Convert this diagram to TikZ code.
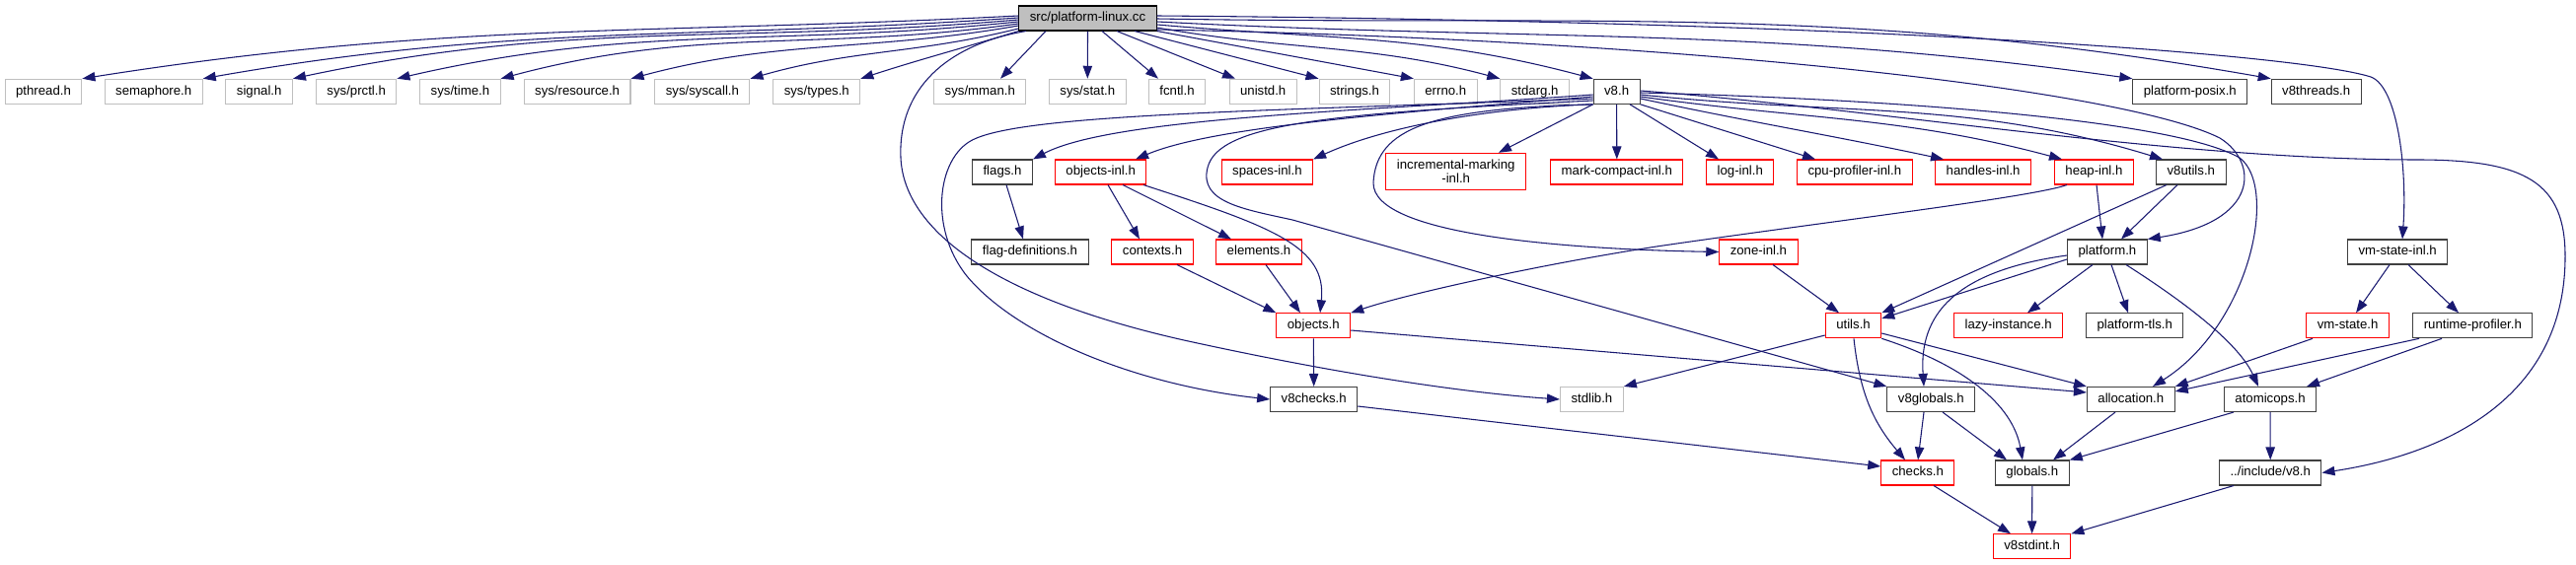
\documentclass[tikz,border=0pt]{standalone}
\usepackage{fontspec}
\setmainfont{Liberation Sans}
\usetikzlibrary{arrows.meta,calc}
\definecolor{mblue}{HTML}{191970}
\definecolor{gseventyfive}{HTML}{BFBFBF}
\definecolor{gforty}{HTML}{404040}
\tikzset{
  base/.style={rectangle, line width=0.8pt, fill=white, minimum height=18.75pt,
    inner xsep=8.25pt, inner ysep=1pt, font=\fontsize{9.9}{10.5}\selectfont},
  one/.style={base, text height=7.1pt, text depth=2.1pt},
  sysh/.style={one, draw=gseventyfive},
  doc/.style={one, draw=gforty},
  trunc/.style={one, draw=red},
  topnode/.style={one, draw=black, fill=gseventyfive},
  edge/.style={draw=mblue, line width=0.8pt, -{Triangle[length=9.75pt,width=7pt]}}
}
\begin{document}
\begin{tikzpicture}[x=0.75pt,y=0.75pt]
\useasboundingbox (0,0) rectangle (2611,-573);
% row 0
\node[topnode] (src) at (1102.5,-18.5) {src/platform-linux.cc};
% row 1
\node[sysh] (pthread) at (44,-92.8) {pthread.h};
\node[sysh] (semaphore) at (155.7,-92.8) {semaphore.h};
\node[sysh] (signal) at (262.7,-92.8) {signal.h};
\node[sysh] (prctl) at (361.2,-92.8) {sys/prctl.h};
\node[sysh] (systime) at (466.4,-92.8) {sys/time.h};
\node[sysh] (resource) at (585.1,-92.8) {sys/resource.h};
\node[sysh] (syscall) at (711.9,-92.8) {sys/syscall.h};
\node[sysh] (systypes) at (827.8,-92.8) {sys/types.h};
\node[sysh] (mman) at (993.3,-92.8) {sys/mman.h};
\node[sysh] (stat) at (1102.3,-92.8) {sys/stat.h};
\node[sysh] (fcntl) at (1193,-92.8) {fcntl.h};
\node[sysh] (unistd) at (1280.2,-92.8) {unistd.h};
\node[sysh] (strings) at (1373,-92.8) {strings.h};
\node[sysh] (errno) at (1465.3,-92.8) {errno.h};
\node[sysh] (stdarg) at (1555.7,-92.8) {stdarg.h};
\node[doc] (veight) at (1638.6,-92.8) {v8.h};
\node[doc] (posix) at (2219.8,-92.8) {platform-posix.h};
\node[doc] (threads) at (2347.7,-92.8) {v8threads.h};
% row 2
\node[doc] (flags) at (1016,-174.5) {flags.h};
\node[trunc] (objinl) at (1115.7,-174.5) {objects-inl.h};
\node[trunc] (spaces) at (1284.4,-174.5) {spaces-inl.h};
\node[base, draw=red, align=center, minimum height=28pt] (incr) at (1475.7,-174) {incremental-marking\\-inl.h};
\node[trunc] (markc) at (1638.8,-174.5) {mark-compact-inl.h};
\node[trunc] (login) at (1763.8,-174.5) {log-inl.h};
\node[trunc] (cpuprof) at (1879.8,-174.5) {cpu-profiler-inl.h};
\node[trunc] (handles) at (2010.1,-174.5) {handles-inl.h};
\node[trunc] (heapinl) at (2122.4,-174.5) {heap-inl.h};
\node[doc] (vutils) at (2220.8,-174.5) {v8utils.h};
% row 3
\node[doc] (flagdef) at (1044,-255.5) {flag-definitions.h};
\node[trunc] (contexts) at (1168,-255.5) {contexts.h};
\node[trunc] (elements) at (1276,-255.5) {elements.h};
\node[trunc] (zoneinl) at (1782.4,-255.5) {zone-inl.h};
\node[doc] (platform) at (2135.9,-255.5) {platform.h};
\node[doc] (vmsinl) at (2430.2,-255.5) {vm-state-inl.h};
% row 4
\node[trunc] (objects) at (1331.3,-330.3) {objects.h};
\node[trunc] (utils) at (1878.5,-330.3) {utils.h};
\node[trunc] (lazy) at (2035.6,-330.3) {lazy-instance.h};
\node[doc] (ptls) at (2163.7,-330.3) {platform-tls.h};
\node[trunc] (vmstate) at (2379.6,-330.3) {vm-state.h};
\node[doc] (rtprof) at (2506.3,-330.3) {runtime-profiler.h};
% row 5
\node[doc] (vchecks) at (1331.7,-405) {v8checks.h};
\node[sysh] (stdlib) at (1613.4,-405) {stdlib.h};
\node[doc] (vglobals) at (1957.3,-405) {v8globals.h};
\node[doc] (alloc) at (2159.8,-405) {allocation.h};
\node[doc] (atomic) at (2301,-405) {atomicops.h};
% row 6
\node[trunc] (checks) at (1943.8,-479.5) {checks.h};
\node[doc] (globals) at (2059.8,-479.5) {globals.h};
\node[doc] (inclv8) at (2301.2,-479.5) {../include/v8.h};
% row 7
\node[trunc] (stdint) at (2059.6,-554.3) {v8stdint.h};

% ---- edges from src
\draw[edge] (src.west |- 0,-16) to[out=183,in=9] (pthread.north east);
\draw[edge] (src.west |- 0,-18) to[out=184,in=10] (semaphore.north east);
\draw[edge] (src.west |- 0,-20) to[out=185,in=12] (signal.north east);
\draw[edge] (src.west |- 0,-22) to[out=186,in=13] (prctl.north east);
\draw[edge] (src.west |- 0,-24) to[out=188,in=15] (systime.north east);
\draw[edge] (src.west |- 0,-26) to[out=190,in=15] (resource.north east);
\draw[edge] (src.west |- 0,-29) to[out=194,in=16] (syscall.north east);
\draw[edge] (src.south west) to[out=197,in=18] (systypes.north east);
\draw[edge] (src.south -| 1060,0) -- (mman.north -| 1014,0);
\draw[edge] (src.south) -- (stat.north);
\draw[edge] (src.south -| 1117,0) -- (fcntl.north -| 1174,0);
\draw[edge] (src.south -| 1132,0) -- (unistd.north -| 1252,0);
\draw[edge] (src.south -| 1150,0) -- (strings.north west);
\draw[edge] (src.south east) -- (errno.north west);
\draw[edge] (src.east |- 0,-28) to[out=-10,in=165] (stdarg.north west);
\draw[edge] (src.east |- 0,-25) to[out=-5,in=165] (veight.north west);
\draw[edge] (src.east |- 0,-22) to[out=-3,in=172] (posix.north west);
\draw[edge] (src.east |- 0,-19) to[out=-1,in=170] (threads.north west);
\draw[edge] (src.east |- 0,-16) .. controls (1900,-22) and (2330,-55) .. (2403,-78)
   .. controls (2430,-88) and (2440,-170) .. (vmsinl.north -| 2435,0);
\draw[edge] (src.east |- 0,-30) .. controls (1700,-40) and (2150,-90) .. (2250,-140)
   .. controls (2290,-165) and (2290,-225) .. (platform.north east);
\draw[edge] (src.south -| 1040,0) .. controls (960,-45) and (910,-90) .. (913,-160)
   .. controls (916,-230) and (1000,-300) .. (1200,-345)
   .. controls (1350,-378) and (1480,-398) .. (stdlib.west);

% ---- edges from v8.h
\draw[edge] (veight.west |- 0,-96) .. controls (1400,-112) and (1130,-118) .. (flags.north east);
\draw[edge] (veight.west |- 0,-98) .. controls (1420,-114) and (1230,-128) .. (objinl.north -| 1151,0);
\draw[edge] (veight.south west) .. controls (1500,-110) and (1400,-130) .. (spaces.north east);
\draw[edge] (veight.west |- 0,-100) .. controls (1300,-112) and (1050,-115) .. (990,-140)
   .. controls (950,-155) and (940,-230) .. (980,-280)
   .. controls (1030,-340) and (1150,-390) .. (vchecks.west);
\draw[edge] (veight.west |- 0,-102) .. controls (1350,-115) and (1235,-125) .. (1224,-170)
   .. controls (1215,-205) and (1260,-212) .. (1310,-223) -- (vglobals.north west);
\draw[edge] (veight.south west) .. controls (1450,-110) and (1395,-130) .. (1392,-185)
   .. controls (1390,-240) and (1600,-253) .. (zoneinl.west);
\draw[edge] (veight.south west) -- (incr.north -| 1519,0);
\draw[edge] (veight.south) -- (markc.north);
\draw[edge] (veight.south -| 1652,0) -- (login.north -| 1742,0);
\draw[edge] (veight.south east) -- (cpuprof.north -| 1840,0);
\draw[edge] (veight.east |- 0,-100) to[out=-12,in=168] (handles.north -| 1970,0);
\draw[edge] (veight.east |- 0,-98) to[out=-8,in=165] (heapinl.north -| 2090,0);
\draw[edge] (veight.east |- 0,-96) to[out=-6,in=163] (vutils.north -| 2192,0);
\draw[edge] (veight.east |- 0,-94) .. controls (1900,-100) and (2200,-120) .. (2270,-160)
   .. controls (2310,-190) and (2280,-330) .. (alloc.north -| 2182,0);
\draw[edge] (veight.east |- 0,-92) .. controls (1900,-110) and (2200,-162) .. (2450,-162)
   .. controls (2560,-162) and (2600,-185) .. (2600,-260)
   .. controls (2600,-420) and (2450,-465) .. (inclv8.east);

% ---- other edges
\draw[edge] (flags.south -| 1020,0) -- (flagdef.north -| 1037,0);
\draw[edge] (objinl.south -| 1123,0) -- (contexts.north -| 1155,0);
\draw[edge] (objinl.south -| 1138,0) -- (elements.north -| 1248,0);
\draw[edge] (objinl.south -| 1159,0) .. controls (1290,-230) and (1345,-250) .. (objects.north -| 1338,0);
\draw[edge] (contexts.south -| 1193,0) -- (objects.north west);
\draw[edge] (elements.south -| 1283,0) -- (objects.north -| 1318,0);
\draw[edge] (heapinl.south -| 2095,0) .. controls (2060,-200) and (1850,-225) .. (1679,-250)
   .. controls (1550,-270) and (1420,-300) .. (objects.north east);
\draw[edge] (heapinl.south -| 2125,0) -- (platform.north -| 2131,0);
\draw[edge] (vutils.south -| 2207,0) -- (platform.north -| 2150,0);
\draw[edge] (vutils.south -| 2196,0) -- (utils.north east);
\draw[edge] (platform.west |- 0,-263) -- (utils.east |- 0,-323);
\draw[edge] (zoneinl.south -| 1797,0) -- (utils.north -| 1864,0);
\draw[edge] (platform.south -| 2121,0) -- (lazy.north -| 2055,0);
\draw[edge] (platform.south -| 2140,0) -- (ptls.north -| 2157,0);
\draw[edge] (platform.south -| 2155,0) .. controls (2220,-310) and (2270,-350) .. (atomic.north -| 2289,0);
\draw[edge] (platform.west |- 0,-259) .. controls (1980,-275) and (1945,-320) .. (vglobals.north -| 1950,0);
\draw[edge] (utils.west |- 0,-340) -- (stdlib.north east);
\draw[edge] (utils.east |- 0,-338) -- (alloc.north west);
\draw[edge] (utils.south east) .. controls (1990,-370) and (2040,-410) .. (globals.north -| 2050,0);
\draw[edge] (utils.south -| 1879,0) .. controls (1885,-400) and (1900,-430) .. (checks.north -| 1931,0);
\draw[edge] (objects.south) -- (vchecks.north);
\draw[edge] (objects.east |- 0,-335) -- (alloc.west |- 0,-398);
\draw[edge] (vchecks.east |- 0,-412) -- (checks.west |- 0,-473);
\draw[edge] (vglobals.south -| 1950,0) -- (checks.north -| 1944,0);
\draw[edge] (vglobals.south -| 1969,0) -- (globals.north -| 2034,0);
\draw[edge] (alloc.south -| 2144,0) -- (globals.north -| 2081,0);
\draw[edge] (atomic.south -| 2264,0) -- (globals.north east);
\draw[edge] (atomic.south) -- (inclv8.north);
\draw[edge] (checks.south -| 1960,0) -- (stdint.north -| 2038,0);
\draw[edge] (globals.south) -- (stdint.north);
\draw[edge] (inclv8.south -| 2264,0) -- (stdint.north east);
\draw[edge] (vmsinl.south -| 2422,0) -- (vmstate.north -| 2388,0);
\draw[edge] (vmsinl.south -| 2441,0) -- (rtprof.north -| 2492,0);
\draw[edge] (vmstate.south -| 2344,0) -- (alloc.north east);
\draw[edge] (rtprof.south -| 2452,0) -- (alloc.east |- 0,-397);
\draw[edge] (rtprof.south -| 2475,0) -- (atomic.north -| 2338,0);
\end{tikzpicture}
\end{document}
